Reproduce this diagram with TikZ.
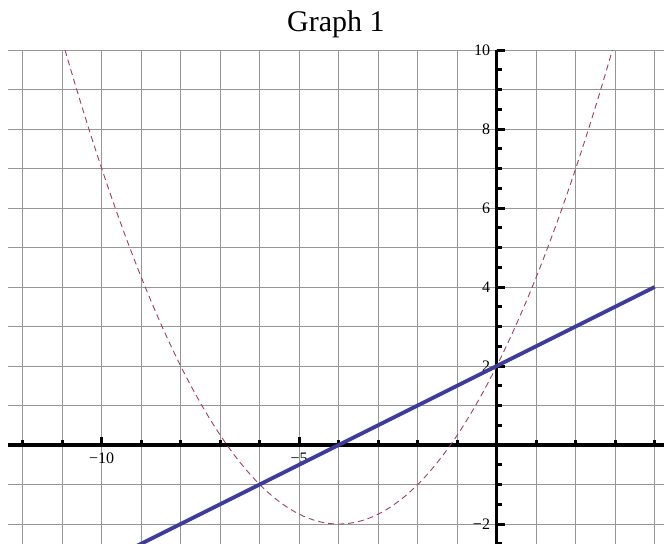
\documentclass[tikz,border=0pt]{standalone}
\usepackage{fontspec}
\setmainfont{Liberation Serif}
\usetikzlibrary{calc}
\definecolor{linecol}{RGB}{61,61,153}
\definecolor{parabcol}{RGB}{160,60,110}
\definecolor{gridcol}{RGB}{150,150,150}

\begin{document}
\begin{tikzpicture}[
    x=39.5pt, y=39.5pt,
    gridline/.style={draw=gridcol, line width=0.9pt},
    axisline/.style={line width=3.5pt},
    tickmark/.style={line width=3pt},
    ticklabel/.style={font=\fontsize{16}{16}\selectfont, inner sep=0pt},
    linegraph/.style={draw=linecol, line width=3.8pt},
    parabgraph/.style={draw=parabcol, line width=0.9pt, dash pattern=on 6pt off 4pt}
]
    \useasboundingbox (-12.575,-2.506) rectangle (4.235,11.266);

    % grid
    \foreach \x in {-12,...,4}
        \draw[gridline] (\x,-2.506) -- (\x,10);
    \foreach \y in {-2,...,10}
        \draw[gridline] (-12.36,\y) -- (4.235,\y);

    % axes
    \draw[axisline] (-12.36,0) -- (4.235,0);
    \draw[axisline] (0,-2.506) -- (0,10);

    % ticks on the x axis
    \foreach \x in {-12,...,4}
        \draw[tickmark] (\x,0) -- ++(0,5pt);
    \foreach \x in {-10,-5}
        \draw[tickmark] (\x,0) -- ++(0,8.5pt);

    % ticks on the y axis
    \foreach \y in {-2.5,-1.5,...,9.5}
        \draw[tickmark] (0,\y) -- ++(5pt,0);
    \foreach \y in {-1,0,...,10}
        \draw[tickmark] (0,\y) -- ++(5pt,0);
    \foreach \y in {-2,2,4,6,8,10}
        \draw[tickmark] (0,\y) -- ++(8.5pt,0);

    % tick labels
    \node[ticklabel, anchor=north] (xlab10) at ([yshift=-8pt]-10,0) {−10};
    \node[ticklabel, anchor=north] (xlab5) at ([yshift=-8pt]-5,0) {−5};
    \foreach \y/\name in {-2/m2,2/p2,4/p4,6/p6,8/p8,10/p10}
        \node[ticklabel, anchor=east] (ylab\name) at ([xshift=-6.5pt]0,\y)
            {\ifnum\y<0 −\the\numexpr-\y\relax\else\y\fi};

    % title
    \node[font=\fontsize{30}{30}\selectfont, anchor=base] (title) at (-4.07,10.46) {Graph 1};

    % curves
    \begin{scope}
        \clip (-12.36,-2.506) rectangle (4.235,10);
        \draw[parabgraph] plot[domain=-10.9282:2.9282, samples=120] (\x, {0.25*(\x+4)^2-2});
        \draw[linegraph] plot[domain=-9.1:4, samples=2] (\x, {0.5*\x+2});
    \end{scope}
\end{tikzpicture}
\end{document}
